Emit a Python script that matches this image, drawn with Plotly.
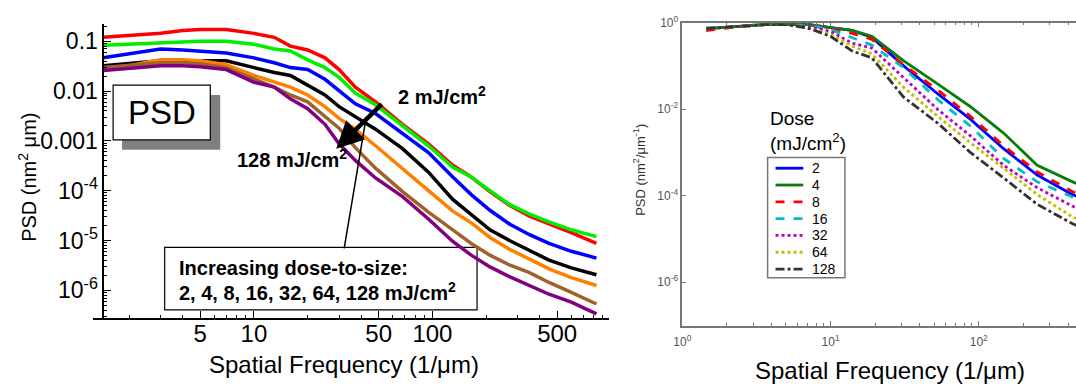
import plotly.graph_objects as go

W, H = 1076, 389
FONT = "Arial, Liberation Sans, sans-serif"

# ---------------- Left panel data (PSD, nm^2 um) ----------------
freq_left = [1.43, 2, 3, 4, 5, 7, 10, 13, 16, 20, 25, 30, 37, 48, 68, 95,
             130, 165, 210, 270, 350, 450, 600, 830]
psd_left_2 = [0.120, 0.131, 0.144, 0.164, 0.172, 0.172, 0.144, 0.120, 0.0798, 0.0667,
              0.0464, 0.0270, 0.0120, 0.00608, 0.00215, 0.000873, 0.000323, 0.000188,
              0.0000956, 0.0000508, 0.0000309, 0.0000215, 0.0000144, 8.73e-6]
psd_left_4 = [0.0835, 0.0873, 0.0956, 0.0956, 0.100, 0.100, 0.0873, 0.0697, 0.0637, 0.0424,
              0.0296, 0.0188, 0.00914, 0.00531, 0.00197, 0.000798, 0.000296, 0.000188,
              0.000100, 0.0000531, 0.0000338, 0.0000236, 0.0000164, 0.0000120]
psd_left_8 = [0.0464, 0.0556, 0.0697, 0.0667, 0.0637, 0.0582, 0.0464, 0.0370, 0.0296, 0.0270,
              0.0172, 0.0100, 0.00556, 0.00354, 0.00144, 0.000582, 0.000188, 0.0000835,
              0.0000405, 0.0000215, 0.0000131, 8.73e-6, 6.08e-6, 4.44e-6]
psd_left_16 = [0.0323, 0.0354, 0.0405, 0.0405, 0.0405, 0.0405, 0.0296, 0.0236, 0.0206, 0.0131,
               0.00835, 0.00486, 0.00309, 0.00172, 0.000697, 0.000236, 0.0000667, 0.0000338,
               0.0000164, 0.0000100, 6.37e-6, 4.05e-6, 2.83e-6, 2.06e-6]
psd_left_32 = [0.0270, 0.0323, 0.0424, 0.0424, 0.0405, 0.0338, 0.0206, 0.0150, 0.0120, 0.00835,
               0.00486, 0.00283, 0.00172, 0.000798, 0.000283, 0.000100, 0.0000388, 0.0000226,
               0.0000115, 6.67e-6, 4.24e-6, 2.70e-6, 1.80e-6, 1.25e-6]
psd_left_64 = [0.0296, 0.0323, 0.0370, 0.0370, 0.0354, 0.0296, 0.0172, 0.0120, 0.00835, 0.00608,
               0.00309, 0.00180, 0.000730, 0.000283, 0.0000956, 0.0000370, 0.0000164, 8.73e-6,
               5.08e-6, 3.23e-6, 2.26e-6, 1.44e-6, 9.14e-7, 5.31e-7]
psd_left_128 = [0.0258, 0.0283, 0.0323, 0.0323, 0.0309, 0.0270, 0.0150, 0.0120, 0.00697, 0.00444,
                0.00215, 0.000873, 0.000405, 0.000180, 0.0000763, 0.0000270, 9.56e-6, 5.08e-6,
                2.96e-6, 1.88e-6, 1.25e-6, 8.35e-7, 5.82e-7, 3.38e-7]
left_colors = ["#ff0000", "#00ee00", "#0000ff", "#000000", "#ff8000", "#a0622d", "#800080"]

# ---------------- Right panel data (normalised PSD) ----------------
freq_right = [1.45, 1.9, 2.6, 3.6, 5.1, 7.2, 10, 14, 19, 31, 53, 88, 147, 248, 430, 560]
psd_right_2 = [0.732, 0.771, 0.834, 0.901, 0.901, 0.901, 0.771, 0.660, 0.458, 0.102, 0.0225,
               0.00582, 0.00122, 0.000301, 0.000106, 0.0000740]
psd_right_4 = [0.732, 0.771, 0.834, 0.901, 0.901, 0.901, 0.771, 0.660, 0.483, 0.132, 0.0378,
               0.0114, 0.00281, 0.000506, 0.000209, 0.000146]
psd_right_8 = [0.660, 0.732, 0.834, 0.901, 0.901, 0.855, 0.732, 0.565, 0.413, 0.107, 0.0277,
               0.00681, 0.00143, 0.000352, 0.000124, 0.0000865]
psd_right_16 = [0.771, 0.771, 0.834, 0.901, 0.901, 0.855, 0.695, 0.458, 0.303, 0.0916, 0.0165,
                0.00405, 0.000728, 0.000209, 0.0000910, 0.0000633]
psd_right_32 = [0.732, 0.771, 0.834, 0.901, 0.901, 0.812, 0.626, 0.336, 0.259, 0.0545, 0.0098,
                0.00241, 0.000506, 0.000153, 0.0000570, 0.0000396]
psd_right_64 = [0.732, 0.771, 0.834, 0.901, 0.901, 0.732, 0.536, 0.287, 0.190, 0.0324, 0.00681,
                0.00167, 0.000433, 0.000106, 0.0000322, 0.0000224]
psd_right_128 = [0.732, 0.771, 0.834, 0.901, 0.901, 0.732, 0.483, 0.221, 0.154, 0.0192, 0.00473,
                 0.000995, 0.000258, 0.0000633, 0.0000224, 0.0000156]
right_colors = ["#0000ff", "#0a7d0a", "#ff0000", "#00bfbf", "#bf00bf", "#bfbf00", "#333333"]
right_dashes = ["solid", "solid", "dash", "dash", "dot", "dot", "dashdot"]

doses = ["2", "4", "8", "16", "32", "64", "128"]
left_series = [psd_left_2, psd_left_4, psd_left_8, psd_left_16, psd_left_32, psd_left_64, psd_left_128]
right_series = [psd_right_2, psd_right_4, psd_right_8, psd_right_16, psd_right_32, psd_right_64, psd_right_128]

left_xticks = [5, 10, 50, 100, 500]
left_yticks = [1e-1, 1e-2, 1e-3, 1e-4, 1e-5, 1e-6]
left_ytext = ["0.1", "0.01", "0.001", "10<sup>-4</sup>", "10<sup>-5</sup>", "10<sup>-6</sup>"]
right_xticks = [1, 10, 100]
right_xtext = ["10<sup>0</sup>", "10<sup>1</sup>", "10<sup>2</sup>"]
right_yticks = [1, 1e-2, 1e-4, 1e-6]
right_ytext = ["10<sup>0</sup>", "10<sup>-2</sup>", "10<sup>-4</sup>", "10<sup>-6</sup>"]


def px(x):
    return x / W


def py(y):
    return 1 - y / H


def minor_vals(lo, hi):
    return [m * 10 ** e for e in range(lo, hi) for m in range(2, 10)]


fig = go.Figure()
for name, ys, col in zip(doses, left_series, left_colors):
    fig.add_trace(go.Scatter(x=freq_left, y=ys, mode="lines", name=name, showlegend=False,
                             line=dict(color=col, width=3.5), xaxis="x", yaxis="y"))
for name, ys, col, dash in zip(doses, right_series, right_colors, right_dashes):
    fig.add_trace(go.Scatter(x=freq_right, y=ys, mode="lines", name=name, showlegend=False,
                             line=dict(color=col, width=2.8, dash=dash), xaxis="x2", yaxis="y2"))

fig.update_layout(
    width=W, height=H, margin=dict(l=0, r=0, t=0, b=0),
    paper_bgcolor="white", plot_bgcolor="white",
    font=dict(family=FONT, color="black"),
    showlegend=False,
    xaxis=dict(type="log", range=[0.1, 2.989], domain=[px(85), px(605)], anchor="y",
               showline=True, linecolor="black", linewidth=1.5, showgrid=False, zeroline=False,
               ticks="inside", ticklen=7, tickwidth=1, tickcolor="black",
               tickmode="array", tickvals=left_xticks, ticktext=[str(v) for v in left_xticks],
               tickfont=dict(size=24, family=FONT), ticklabelstandoff=-6,
               minor=dict(ticks="inside", ticklen=3, tickcolor="black", tickvals=minor_vals(0, 3))),
    yaxis=dict(type="log", range=[-6.549, -0.647], domain=[py(316), py(15)], anchor="free",
               position=px(95), showline=True, linecolor="black", linewidth=1.5,
               showgrid=False, zeroline=False, ticks="inside", ticklen=7, tickcolor="black",
               tickmode="array", tickvals=left_yticks, ticktext=left_ytext,
               tickfont=dict(size=23, family=FONT),
               minor=dict(ticks="inside", ticklen=3, tickcolor="black", tickvals=minor_vals(-7, 0))),
    xaxis2=dict(type="log", range=[0, 2.656], domain=[px(679), 1.0], anchor="y2",
                showline=True, mirror="ticks", linecolor="#777777", linewidth=1.5,
                showgrid=False, zeroline=False, ticks="inside", ticklen=5, tickcolor="#777777",
                tickmode="array", tickvals=right_xticks, ticktext=right_xtext,
                tickfont=dict(size=12, color="#555555", family=FONT), ticklabelstandoff=4,
                minor=dict(ticks="inside", ticklen=3, tickcolor="#777777", tickvals=minor_vals(0, 3))),
    yaxis2=dict(type="log", range=[-7, 0], domain=[py(324), py(14)], anchor="x2",
                showline=True, linecolor="#777777", linewidth=1.5, showgrid=False, zeroline=False,
                ticks="inside", ticklen=4, tickcolor="#777777",
                tickmode="array", tickvals=right_yticks, ticktext=right_ytext,
                tickfont=dict(size=12, color="#555555", family=FONT)),
)

shapes = [
    # PSD label shadow and box
    dict(type="rect", xref="paper", yref="paper", x0=px(114), x1=px(213), y0=py(144), y1=py(88),
         fillcolor="#808080", line=dict(width=0), layer="above"),
    dict(type="rect", xref="paper", yref="paper", x0=px(105), x1=px(203), y0=py(134), y1=py(78),
         fillcolor="white", line=dict(color="black", width=1.2), layer="above"),
    # text box for dose series
    dict(type="rect", xref="paper", yref="paper", x0=px(157), x1=px(472), y0=py(308), y1=py(244),
         fillcolor="white", line=dict(color="black", width=1.2), layer="below"),
    # thin pointer line
    dict(type="line", xref="paper", yref="paper", x0=px(338), y0=py(245), x1=px(359), y1=py(118),
         line=dict(color="black", width=1.5), layer="above"),
    # legend frame (right panel)
    dict(type="rect", xref="paper", yref="paper", x0=px(765), x1=px(843), y0=py(275), y1=py(152),
         fillcolor="white", line=dict(color="#777777", width=1.5), layer="above"),
]

annotations = [
    dict(text="PSD", x=px(154), y=py(106), xref="paper", yref="paper", showarrow=False,
         xanchor="center", yanchor="middle", font=dict(size=33, family=FONT)),
    dict(text="<b>2 mJ/cm<sup>2</sup></b>", x=px(390), y=py(89), xref="paper", yref="paper",
         showarrow=False, xanchor="left", yanchor="middle", font=dict(size=20, family=FONT)),
    dict(text="<b>128 mJ/cm<sup>2</sup></b>", x=px(228), y=py(153), xref="paper", yref="paper",
         showarrow=False, xanchor="left", yanchor="middle", font=dict(size=20, family=FONT)),
    dict(text="<b>Increasing dose-to-size:</b>", x=px(169), y=py(265), xref="paper", yref="paper",
         showarrow=False, xanchor="left", yanchor="middle", font=dict(size=20, family=FONT)),
    dict(text="<b>2, 4, 8, 16, 32, 64, 128 mJ/cm<sup>2</sup></b>", x=px(169), y=py(289),
         xref="paper", yref="paper", showarrow=False, xanchor="left", yanchor="middle",
         font=dict(size=20, family=FONT)),
    # big arrow
    dict(text="", x=px(330), y=py(143), xref="paper", yref="paper", showarrow=True,
         ax=47, ay=-46, arrowhead=2, arrowsize=1.2, arrowwidth=4.5, arrowcolor="black", standoff=0),
    # axis titles
    dict(text="Spatial Frequency (1/\u03bcm)", x=px(338), y=py(364), xref="paper", yref="paper",
         showarrow=False, xanchor="center", yanchor="middle", font=dict(size=24, family=FONT)),
    dict(text="PSD (nm<sup>2</sup> \u03bcm)", x=px(18), y=py(172), xref="paper", yref="paper",
         showarrow=False, xanchor="center", yanchor="middle", textangle=-90,
         font=dict(size=20, family=FONT)),
    dict(text="Spatial Frequency (1/\u03bcm)", x=px(888), y=py(370), xref="paper", yref="paper",
         showarrow=False, xanchor="center", yanchor="middle", font=dict(size=24, family=FONT)),
    dict(text="PSD (nm<sup>2</sup>/\u03bcm<sup>-1</sup>)", x=px(636), y=py(165), xref="paper",
         yref="paper", showarrow=False, xanchor="center", yanchor="middle", textangle=-90,
         font=dict(size=13, family=FONT, color="#333333")),
    dict(text="Dose<br>(mJ/cm<sup>2</sup>)", x=px(765), y=py(99), xref="paper", yref="paper",
         showarrow=False, xanchor="left", yanchor="top", align="left",
         font=dict(size=19, family=FONT)),
]

# hand-built legend matching the reference's compact key
for i, (name, col, dash) in enumerate(zip(doses, right_colors, right_dashes)):
    yy = 163 + i * 17.2
    shapes.append(dict(type="line", xref="paper", yref="paper", x0=px(773), x1=px(801),
                       y0=py(yy), y1=py(yy), line=dict(color=col, width=2.8, dash=dash),
                       layer="above"))
    annotations.append(dict(text=name, x=px(808), y=py(yy), xref="paper", yref="paper",
                            showarrow=False, xanchor="left", yanchor="middle",
                            font=dict(size=14, family=FONT)))

fig.update_layout(shapes=shapes, annotations=annotations)
fig.write_html("out.html", config={"displayModeBar": False},
               post_script="document.body.style.margin='0px';")
